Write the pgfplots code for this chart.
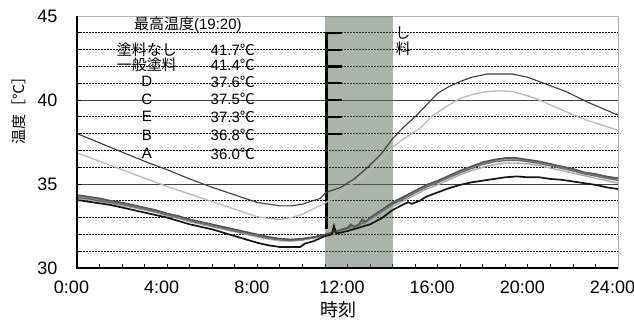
\documentclass[border=0pt]{standalone}
\usepackage{fontspec}
\setmainfont{Liberation Sans}
\newfontfamily\jp{Noto Sans CJK JP}
\usepackage{pgfplots}
\pgfplotsset{compat=1.18}
\definecolor{shadebase}{RGB}{89,101,89}
\definecolor{cN}{RGB}{60,60,60}
\definecolor{cG}{RGB}{185,185,185}
\definecolor{cD}{RGB}{85,85,85}
\definecolor{cC}{RGB}{125,125,125}
\definecolor{cE}{RGB}{105,105,105}
\definecolor{cB}{RGB}{170,170,170}
\definecolor{cA}{RGB}{20,20,20}
\begin{document}
\begin{tikzpicture}[x=1pt,y=1pt]
\begin{axis}[
  at={(77pt,57pt)}, anchor=south west,
  scale only axis, width=541pt, height=252pt,
  xmin=0, xmax=24, ymin=30, ymax=45,
  clip=false,
  xtick={0,4,8,12,16,20,24},
  xticklabels={0:00,4:00,8:00,12:00,16:00,20:00,24:00},
  minor x tick num=3,
  ytick={30,35,40,45}, yticklabels={30,35,40,45},
  minor y tick num=4,
  ymajorgrids, yminorgrids,
  major grid style={black!75, line width=1pt},
  minor grid style={black, dash pattern=on 1.8pt off 1.2pt, line width=0.9pt},
  tick align=inside, tick pos=left,
  major tick length=4pt, minor tick length=4pt,
  tick style={black, line width=0.8pt},
  axis line style={gray!60, line width=0.9pt},
  ticklabel style={font=\fontsize{18}{20}\selectfont},
  xticklabel style={xshift=-5.5pt, yshift=-9pt},
  yticklabel style={xshift=-16pt},
]
% shaded period (translucent so the grid shows through)
\addplot[fill=shadebase, fill opacity=0.5, draw=none, forget plot] coordinates {(11.0,45) (14.02,45)} \closedcycle;

% black marker line with ticks
\addplot[black, line width=2.2pt, unbounded coords=jump, forget plot] coordinates {
(11.07,44.05) (11.07,32.3)
(11.07,nan)
(11.07,44) (11.75,44)
(11.07,nan)
(11.07,43) (11.75,43)
(11.07,nan)
(11.07,42) (11.75,42)
(11.07,nan)
(11.07,41) (11.75,41)
(11.07,nan)
(11.07,40) (11.75,40)
(11.07,nan)
(11.07,39) (11.75,39)
(11.07,nan)
(11.07,38) (11.75,38)
};

% 一般塗料
\addplot[cG, line width=1.3pt] coordinates {
(0,36.85) (1,36.35) (2,35.85) (3,35.35) (3.7,35.0) (4,34.85) (5,34.4) (6,33.95) (7,33.5) (8,33.05)
(8.5,32.95) (9,32.9) (9.5,33.0) (10,33.2) (10.6,33.6) (11.05,33.9) (11.7,34.5) (12.3,35.1)
(12.9,35.7) (13.5,36.5) (14,37.2) (14.5,37.7) (15.2,38.3) (15.8,39.1) (16.5,39.7) (17,40.1)
(17.6,40.35) (18.2,40.5) (18.8,40.55) (19.3,40.5) (20,40.25) (20.5,40.0) (21.1,39.65) (21.7,39.3)
(22.6,38.8) (23.3,38.5) (24,38.2)
};
% 塗料なし
\addplot[cN, line width=1.1pt] coordinates {
(0,38.0) (1,37.45) (2,36.9) (3,36.35) (4,35.85) (5,35.3) (5.6,35.0) (6,34.8) (7,34.35) (8,33.9)
(9,33.7) (9.5,33.7) (10,33.8) (10.8,34.15) (11.05,34.5) (11.7,34.8) (12.3,35.3) (12.9,36.0)
(13.5,36.8) (14,37.7) (14.5,38.4) (15,39.0) (15.5,39.7) (16,40.4) (16.5,40.8) (17,41.1)
(17.5,41.35) (18.2,41.55) (19.3,41.55) (20,41.35) (20.5,41.1) (21,40.85) (21.7,40.5)
(22.6,39.9) (23.3,39.5) (24,39.1)
};
% B
\addplot[cB, line width=1.4pt] coordinates {
(0,34.15) (0.5,34.05) (1,33.95) (1.5,33.85) (2,33.7) (2.5,33.6) (3,33.45) (3.5,33.3) (4,33.1)
(4.5,32.95) (5,32.75) (5.5,32.6) (6,32.45) (6.5,32.3) (7,32.15) (7.5,32.0) (8,31.85) (8.5,31.72)
(9,31.62) (9.5,31.6) (10,31.65) (10.5,31.78) (11,31.92) (11.5,32.1) (12,32.3) (12.5,32.5)
(13,32.8) (13.5,33.25) (14,33.65) (14.5,34.0) (15,34.35) (15.5,34.7) (16,34.95) (16.5,35.25)
(17,35.55) (17.5,35.8) (18,36.0) (18.5,36.15) (19,36.25) (19.5,36.25) (20,36.2) (20.5,36.1)
(21,35.95) (21.5,35.8) (22,35.65) (22.5,35.5) (23,35.35) (23.5,35.2) (24,35.05)
};
% E
\addplot[cE, line width=1.4pt] coordinates {
(0,34.2) (0.5,34.12) (1,34.0) (1.5,33.9) (2,33.78) (2.5,33.65) (3,33.5) (3.5,33.35) (4,33.17)
(4.5,33.0) (5,32.82) (5.5,32.66) (6,32.5) (6.5,32.36) (7,32.2) (7.5,32.06) (8,31.9) (8.5,31.78)
(9,31.68) (9.5,31.64) (10,31.7) (10.5,31.8) (11,31.95) (11.5,32.15) (12,32.35) (12.5,32.55)
(13,32.9) (13.5,33.35) (14,33.78) (14.5,34.12) (15,34.48) (15.5,34.82) (16,35.08) (16.5,35.38)
(17,35.67) (17.5,35.92) (18,36.16) (18.5,36.32) (19,36.4) (19.5,36.42) (20,36.33) (20.5,36.22)
(21,36.08) (21.5,35.93) (22,35.78) (22.5,35.6) (23,35.48) (23.5,35.33) (24,35.22)
};
% C
\addplot[cC, line width=1.4pt] coordinates {
(0,34.28) (0.5,34.2) (1,34.08) (1.5,33.95) (2,33.85) (2.5,33.7) (3,33.55) (3.5,33.4) (4,33.22)
(4.5,33.05) (5,32.87) (5.5,32.7) (6,32.55) (6.5,32.4) (7,32.25) (7.5,32.1) (8,31.95) (8.5,31.82)
(9,31.72) (9.5,31.67) (10,31.72) (10.5,31.83) (11,31.98) (11.5,32.18) (12,32.38) (12.1,32.55)
(12.2,32.42) (12.5,32.58) (12.65,32.8) (12.75,32.65) (13,32.95) (13.5,33.4) (14,33.85)
(14.5,34.2) (15,34.55) (15.5,34.9) (16,35.15) (16.5,35.45) (17,35.75) (17.5,36.0) (18,36.25)
(18.5,36.4) (19,36.5) (19.5,36.5) (20,36.4) (20.5,36.3) (21,36.15) (21.5,36.0) (22,35.85)
(22.5,35.66) (23,35.55) (23.5,35.4) (24,35.3)
};
% D
\addplot[cD, line width=1.5pt] coordinates {
(0,34.35) (0.5,34.25) (1,34.15) (1.5,34.0) (2,33.9) (2.5,33.75) (3,33.6) (3.5,33.45) (4,33.25)
(4.5,33.1) (5,32.9) (5.5,32.75) (6,32.6) (6.5,32.45) (7,32.3) (7.5,32.15) (8,32.0) (8.5,31.85)
(9,31.75) (9.5,31.7) (10,31.75) (10.5,31.85) (11,32.0) (11.5,32.2) (12,32.4) (12.15,32.6)
(12.3,32.45) (12.5,32.6) (12.65,32.9) (12.8,32.75) (13,33.0) (13.5,33.45) (14,33.9) (14.5,34.25)
(15,34.6) (15.5,34.95) (16,35.2) (16.5,35.5) (17,35.8) (17.5,36.05) (18,36.3) (18.5,36.45)
(19,36.55) (19.5,36.55) (20,36.45) (20.5,36.35) (21,36.2) (21.5,36.05) (22,35.9) (22.5,35.7)
(23,35.6) (23.5,35.45) (24,35.35)
};
% A
\addplot[cA, line width=1.7pt] coordinates {
(0,34.05) (0.5,33.95) (1,33.85) (1.5,33.75) (2,33.6) (2.5,33.45) (3,33.3) (3.5,33.15) (4,33.0)
(4.5,32.8) (5,32.6) (5.5,32.45) (6,32.3) (6.5,32.1) (7,31.9) (7.5,31.7) (8,31.5) (8.5,31.35)
(9,31.25) (9.5,31.25) (9.9,31.25) (10.1,31.45) (10.5,31.6) (11,31.9) (11.3,32.0) (11.4,32.5)
(11.5,32.05) (12,32.2) (12.5,32.4) (13,32.6) (13.5,32.95) (14,33.45) (14.5,33.8) (14.7,33.92)
(14.85,33.82) (15.2,34.0) (15.5,34.25) (16,34.5) (16.5,34.75) (17,34.95) (17.5,35.1) (18,35.2)
(18.5,35.3) (19,35.4) (19.5,35.45) (20,35.4) (20.5,35.4) (21,35.3) (21.5,35.25) (22,35.15)
(22.5,35.05) (23,34.95) (23.5,34.8) (24,34.7)
};

% left and bottom axis lines
\draw[black, line width=1.2pt] (rel axis cs:0,1) -- (rel axis cs:0,0) -- (rel axis cs:1,0);

% legend table
\begin{scope}[every node/.style={font=\fontsize{15}{17}\selectfont, inner sep=0pt}]
\node at (axis cs:4.92,44.46) {{\jp 最高温度}(19:20)};
\node at (axis cs:3.1,43.0) {\jp 塗料なし};
\node at (axis cs:3.1,42.08) {\jp 一般塗料};
\node at (axis cs:3.1,41.1) {D};
\node at (axis cs:3.1,40.04) {C};
\node at (axis cs:3.1,39.0) {E};
\node at (axis cs:3.1,37.9) {B};
\node at (axis cs:3.1,36.8) {A};
\node[anchor=east] at (axis cs:7.9,43.0) {41.7{\jp ℃}};
\node[anchor=east] at (axis cs:7.9,42.08) {41.4{\jp ℃}};
\node[anchor=east] at (axis cs:7.9,41.1) {37.6{\jp ℃}};
\node[anchor=east] at (axis cs:7.9,40.04) {37.5{\jp ℃}};
\node[anchor=east] at (axis cs:7.9,39.0) {37.3{\jp ℃}};
\node[anchor=east] at (axis cs:7.9,37.9) {36.8{\jp ℃}};
\node[anchor=east] at (axis cs:7.9,36.8) {36.0{\jp ℃}};
\node at (axis cs:14.46,44.0) {\jp し};
\node at (axis cs:14.48,43.07) {\jp 料};
\end{scope}

% axis titles
\node[rotate=90, font=\fontsize{15}{17}\selectfont\jp, inner sep=0pt] at (axis cs:-2.57,39.6) {温度［℃］};
\node[font=\fontsize{18}{20}\selectfont\jp, inner sep=0pt] at (axis cs:11.6,27.5) {時刻};
\end{axis}
\pgfresetboundingbox
\path[use as bounding box] (0,0) rectangle (634,325);
\end{tikzpicture}
\end{document}
